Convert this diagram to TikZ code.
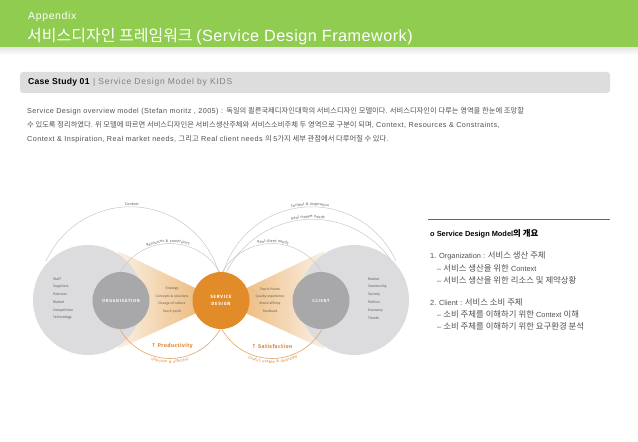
\documentclass[tikz,border=0pt]{standalone}
\usepackage{fontspec}
\setmainfont{Noto Sans CJK KR}
\newfontfamily\lat[Scale=0.88]{Liberation Sans}
\newfontfamily\latp[Scale=0.99,LetterSpace=6]{Liberation Sans}
\newfontfamily\latt[LetterSpace=3]{Liberation Sans}
\newfontfamily\latl[LetterSpace=6]{Liberation Sans}
\newfontfamily\latb[LetterSpace=9]{Liberation Sans}
\newfontfamily\dg{Fira Sans}
\newfontfamily\dgs[LetterSpace=8]{Fira Sans}
\newfontfamily\dgw[LetterSpace=16]{Fira Sans}
\newfontfamily\sym{DejaVu Sans}
\usetikzlibrary{decorations.text}
\definecolor{hdr}{RGB}{143,204,80}
\definecolor{barc}{RGB}{221,221,221}
\definecolor{txt}{RGB}{80,80,80}
\definecolor{lightc}{RGB}{220,220,222}
\definecolor{darkc}{RGB}{168,168,170}
\definecolor{sdor}{RGB}{225,140,40}
\definecolor{arcg}{RGB}{200,200,200}
\definecolor{arco}{RGB}{228,165,100}
\definecolor{wpale}{RGB}{250,240,228}
\definecolor{wdeep}{RGB}{234,180,112}
\definecolor{lbl}{RGB}{100,95,90}
\definecolor{ortxt}{RGB}{215,135,55}
\begin{document}
\begin{tikzpicture}[x=1pt,y=1pt,
  para/.style={anchor=west,inner sep=0pt,text=txt,font=\fontsize{7.3}{9}\selectfont},
  rtxt/.style={anchor=west,inner sep=0pt,text=txt,font=\fontsize{8.4}{9}\selectfont},
  tinytxt/.style={inner sep=0pt,text=lbl,font=\dg\fontsize{3.4}{4}\selectfont},
  listtxt/.style={anchor=west,inner sep=0pt,text=lbl,font=\dg\fontsize{3.6}{4}\selectfont},
  bigc/.style={circle,fill=lightc,minimum size=110pt,inner sep=0pt},
  darkcirc/.style={circle,fill=darkc,minimum size=57pt,inner sep=0pt,text=white!92!gray,font=\dgw\bfseries\fontsize{4.4}{5}\selectfont},
  garc/.style={draw=arcg,line width=0.5pt},
  oarc/.style={draw=arco,line width=0.6pt},
  arclbl/.style={decorate,decoration={text along path,text align=center,raise=1.3pt,text={|\dgs\fontsize{3.8}{4}\selectfont\color{lbl}|#1}}},
  arclblb/.style={decorate,decoration={text along path,text align=center,raise=-4.6pt,text={|\dgs\fontsize{3.9}{4}\selectfont\color{ortxt}|#1}}},
  gain/.style={inner sep=0pt,text=ortxt,font=\dgs\bfseries\fontsize{5.4}{6}\selectfont}
]
\useasboundingbox (0,0) rectangle (638,442);
\fill[white] (0,0) rectangle (638,442);
% header
\fill[hdr] (0,394) rectangle (638,442);
\shade[top color=gray!18,bottom color=white] (0,387) rectangle (638,394);
\node[anchor=west,inner sep=0pt,text=white,font=\latl\fontsize{10.5}{11}\selectfont] (app) at (28,425) {Appendix};
\node[anchor=west,inner sep=0pt,text=white,font=\fontsize{16}{17}\selectfont] (title) at (27,405) {서비스디자인 프레임워크 {\latt\fontsize{16.2}{17}\selectfont (Service Design Framework)}};
% case study bar
\fill[barc,rounded corners=3pt] (20,349) rectangle (610,370);
\node[anchor=west,inner sep=0pt,font=\latt\bfseries\fontsize{8.6}{9}\selectfont] (cs) at (28,359.5) {Case Study 01};
\node[anchor=west,inner sep=0pt,text=gray,font=\latb\fontsize{8.5}{9}\selectfont] (csd) at (cs.east) {\ |\ Service Design Model by KIDS};
% paragraph
\node[para] (p1) at (27,331) {{\latp Service Design overview model (Stefan moritz , 2005) : }독일의 쾰른국제디자인대학의 서비스디자인 모델이다. 서비스디자인이 다루는 영역을 한눈에 조망할};
\node[para] (p2) at (27,317) {수 있도록 정리하였다. 위 모델에 따르면 서비스디자인은 서비스생산주체와 서비스소비주체 두 영역으로 구분이 되며{\latp , Context, Resources \& Constraints,}};
\node[para] (p3) at (27,303) {{\latp Context \& Inspiration, Real market needs, }그리고{\latp\ Real client needs }의 {\latp 5}가지 세부 관점에서 다루어질 수 있다.};
% right block
\coordinate (rl1) at (428,223);
\coordinate (rl2) at (610,223);
\draw[gray!80!black,line width=0.6pt] (rl1) -- (rl2);
\node[rtxt,text=black,font=\bfseries\fontsize{8.4}{9}\selectfont] (rh) at (430,208) {{\lat o Service Design Model}의 개요};
\node[rtxt] (r1) at (430,186) {{\lat 1. Organization : }서비스 생산 주체};
\node[rtxt] (r2) at (437,174) {{\lat – }서비스 생산을 위한{\lat\ Context}};
\node[rtxt] (r3) at (437,162) {{\lat – }서비스 생산을 위한 리소스 및 제약상황};
\node[rtxt] (r4) at (430,140) {{\lat 2. Client : }서비스 소비 주체};
\node[rtxt] (r5) at (437,128) {{\lat – }소비 주체를 이해하기 위한{\lat\ Context }이해};
\node[rtxt] (r6) at (437,116) {{\lat – }소비 주체를 이해하기 위한 요구환경 분석};
% wedges (behind the big circles)
\shade[left color=wpale,right color=wdeep] (118,191) -- (212,146) -- (212,136) -- (118,93) -- cycle;
\shade[left color=wdeep,right color=wpale] (230,146) -- (324,191) -- (324,93) -- (230,136) -- cycle;
% big circles
\node[bigc] (orgbig) at (88,142) {};
\node[bigc] (clibig) at (354,142) {};
% arcs
\draw[garc] (130.3,142.7) ++(155.6:92.5) arc[start angle=155.6,end angle=16.5,radius=92.5];
\draw[garc] (170,141) ++(150.9:57.5) arc[start angle=150.9,end angle=29.1,radius=57.5];
\draw[oarc] (170,141) ++(209.1:57.5) arc[start angle=209.1,end angle=330.9,radius=57.5];
\draw[garc] (272,141) ++(150.9:57.5) arc[start angle=150.9,end angle=29.1,radius=57.5];
\draw[oarc] (272,141) ++(209.1:57.5) arc[start angle=209.1,end angle=330.9,radius=57.5];
\draw[garc] (311.7,142.7) ++(163.5:92.5) arc[start angle=163.5,end angle=24.4,radius=92.5];
\draw[garc] (312.35,126.56) ++(153.8:96.2) arc[start angle=153.8,end angle=35.2,radius=96.2];
% arc labels
\path[arclbl=Context] (130.3,142.7) ++(106:92.5) arc[start angle=106,end angle=72,radius=92.5];
\path[arclbl=Resources {\&} constraints] (170,141) ++(132:57.5) arc[start angle=132,end angle=52,radius=57.5];
\path[arclbl=Real client needs] (272,141) ++(129:57.5) arc[start angle=129,end angle=49,radius=57.5];
\path[arclbl=Context {\&} inspiration] (311.7,142.7) ++(117:92.5) arc[start angle=117,end angle=65,radius=92.5];
\path[arclbl=Real market needs] (312.35,126.56) ++(117:96.2) arc[start angle=117,end angle=68,radius=96.2];
\path[arclblb=effective {\&} efficient] (170,141) ++(222:57.5) arc[start angle=222,end angle=318,radius=57.5];
\path[arclblb={Useful, usable {\&} desirable}] (272,141) ++(222:57.5) arc[start angle=222,end angle=320,radius=57.5];
% dark circles and service design
\node[darkcirc] (org) at (121,141.5) {ORGANISATION};
\node[darkcirc] (cli) at (321,141.5) {CLIENT};
\node[circle,fill=sdor,minimum size=57pt,inner sep=0pt,align=center,text=white,font=\dgw\bfseries\fontsize{4.6}{7}\selectfont] (sd) at (221,141.5) {SERVICE\\DESIGN};
% wedge texts
\node[tinytxt] (w1) at (172,153) {Strategy};
\node[tinytxt] (w2) at (172,145.5) {Concepts \& solutions};
\node[tinytxt] (w3) at (172,138) {Change of culture};
\node[tinytxt] (w4) at (172,130.5) {Touch point};
\node[tinytxt] (v1) at (270,153) {Touch-Points};
\node[tinytxt] (v2) at (270,145.5) {Quality experience};
\node[tinytxt] (v3) at (270,138) {Brand affinity};
\node[tinytxt] (v4) at (270,130.5) {Feedback};
% lists
\node[listtxt] (o1) at (53,163) {Staff};
\node[listtxt] (o2) at (53,155.2) {Suppliers};
\node[listtxt] (o3) at (53,147.4) {Partners};
\node[listtxt] (o4) at (53,139.6) {Market};
\node[listtxt] (o5) at (53,131.8) {Competition};
\node[listtxt] (o6) at (53,124) {Technology};
\node[listtxt] (c1) at (368,163) {Market};
\node[listtxt] (c2) at (368,155.2) {Community};
\node[listtxt] (c3) at (368,147.4) {Society};
\node[listtxt] (c4) at (368,139.6) {Politics};
\node[listtxt] (c5) at (368,131.8) {Economy};
\node[listtxt] (c6) at (368,124) {Trends};
% gains
\node[gain] (prod) at (172,96) {{\sym\bfseries\fontsize{5.6}{6}\selectfont ↑}\ Productivity};
\node[gain] (sat) at (272,96) {{\sym\bfseries\fontsize{5.6}{6}\selectfont ↑}\ Satisfaction};
\end{tikzpicture}
\end{document}
